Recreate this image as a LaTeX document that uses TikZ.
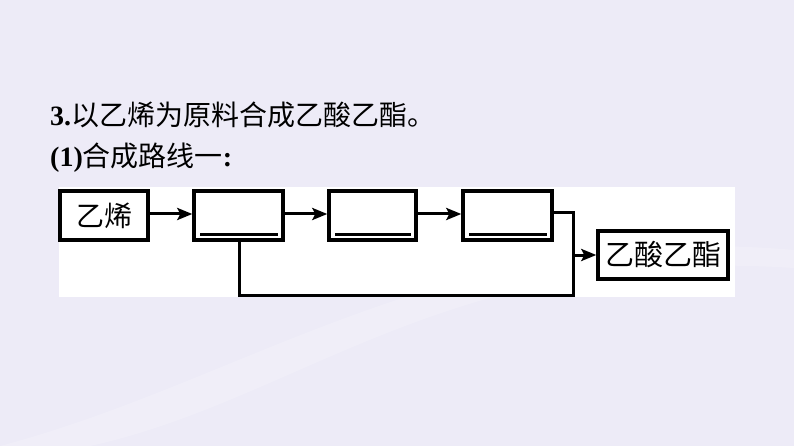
\documentclass[tikz,border=0pt]{standalone}
\usepackage{fontspec}
\setmainfont{Liberation Serif}
\newfontfamily\cjk{Noto Sans CJK SC}
\usetikzlibrary{arrows.meta}
\definecolor{bgc}{HTML}{EDEBF7}
\begin{document}
\begin{tikzpicture}[x=1pt,y=-1pt,
  boxst/.style={draw=black,line width=3.4pt,fill=white,rectangle,inner sep=0pt,minimum height=49pt},
  conn/.style={line width=3pt,-{Stealth[length=15pt,width=12pt,inset=3pt]}},
  plain/.style={line width=3pt},
  blank/.style={line width=3pt}]
\fill[bgc] (0,0) rectangle (794,446);
\fill[white,opacity=0.18] (0,446) .. controls (250,380) and (450,220) .. (794,250) -- (794,268) .. controls (450,245) and (300,400) .. (90,446) -- cycle;
\useasboundingbox (0,0) rectangle (794,446);
\fill[white] (59,187) rectangle (735,297);
\node[anchor=west,inner sep=0pt] (t1) at (50,115) {\fontsize{28}{30}\selectfont\textbf{3.}\cjk 以乙烯为原料合成乙酸乙酯。};
\node[anchor=west,inner sep=0pt] (t2) at (50,158) {\fontsize{28}{30}\selectfont\textbf{(1)}{\cjk 合成路线一}\textbf{:}};
\node[boxst,minimum width=88pt] (a) at (104,215.5) {\fontsize{28}{30}\selectfont\cjk 乙烯};
\node[boxst,minimum width=89pt] (b) at (238.5,215.5) {};
\node[boxst,minimum width=87pt] (c) at (372.5,215.5) {};
\node[boxst,minimum width=89pt] (d) at (507.5,215.5) {};
\node[boxst,minimum width=130pt,minimum height=48pt] (e) at (663,255) {\fontsize{29}{30}\selectfont\cjk 乙酸乙酯};
\foreach \n in {b,c,d}{
  \draw[blank] ([xshift=8pt,yshift=7pt]\n.south west) -- ([xshift=-7pt,yshift=7pt]\n.south east);
}
\coordinate (j1) at (573,213);
\coordinate (j2) at (573,255);
\coordinate (l1) at (239,295);
\coordinate (l2) at (573,295);
\draw[conn] (a.east |- 0,214) -- (b.west |- 0,214);
\draw[conn] (b.east |- 0,214) -- (c.west |- 0,214);
\draw[conn] (c.east |- 0,214) -- (d.west |- 0,214);
\draw[plain] (d.east |- j1) -- (j1) -- (j2);
\draw[conn] (j2) -- (e.west);
\draw[plain] (b.south -| l1) -- (l1) -- (l2) -- (j2);
\end{tikzpicture}
\end{document}
